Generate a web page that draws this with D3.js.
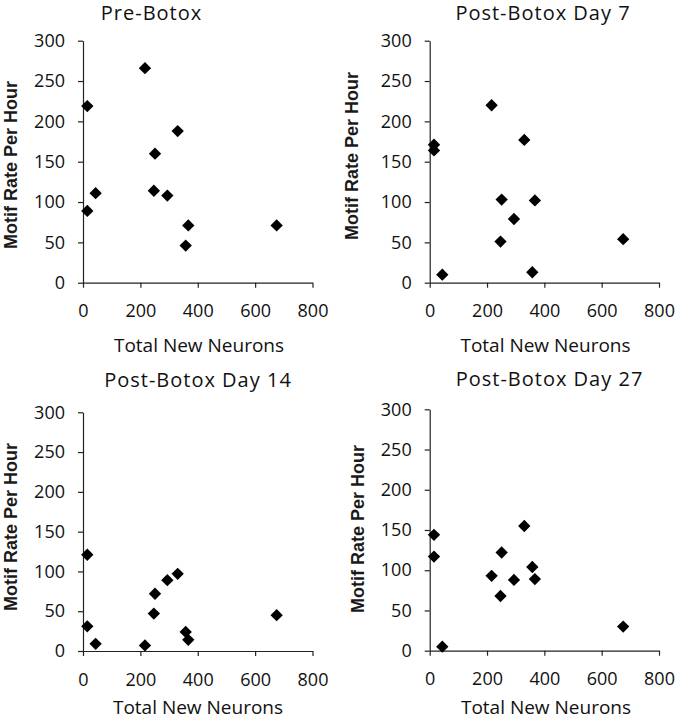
<!DOCTYPE html>
<html>
<head>
<meta charset="utf-8">
<script src="https://cdn.jsdelivr.net/npm/d3@7"></script>
<style>
  html, body { margin: 0; padding: 0; background: #fff; }
  svg { display: block; }
</style>
</head>
<body>
<div id="chart"></div>
<script>
// ---- data ----
const neurons = [15, 15, 44, 216, 247, 251, 294, 330, 358, 367, 675];
const preBotox = [219, 89, 111, 266, 114, 160, 108, 188, 46, 71, 71];
const postDay7 = [171, 164, 10, 220, 51, 103, 79, 177, 13, 102, 54];
const postDay14 = [121, 31, 9, 7, 47, 72, 89, 97, 24, 14, 45];
const postDay27 = [144, 117, 5, 93, 68, 122, 88, 155, 104, 89, 30];

const panelTitles = ["Pre-Botox", "Post-Botox Day 7", "Post-Botox Day 14", "Post-Botox Day 27"];
const panelSeries = [preBotox, postDay7, postDay14, postDay27];
const xTicks = [0, 200, 400, 600, 800];
const yTicks = [0, 50, 100, 150, 200, 250, 300];
const xLabel = "Total New Neurons";
const yLabel = "Motif Rate Per Hour";

// ---- layout (pixels) ----
const W = 677, H = 720;
const layouts = [
  { x0: 83, x1: 312.5, yTop: 40.7, yBot: 282.7, tx: 151.5, ty: 19.5, ylx: 17, yly: 165, xlx: 199, xly: 352 },
  { x0: 429.7, x1: 659, yTop: 40.7, yBot: 282.7, tx: 543, ty: 19.5, ylx: 358, yly: 156, xlx: 545.5, xly: 352 },
  { x0: 83, x1: 312.5, yTop: 412.3, yBot: 651, tx: 198, ty: 387, ylx: 17, yly: 527, xlx: 198, xly: 714 },
  { x0: 429.7, x1: 659, yTop: 409.3, yBot: 650.7, tx: 549.5, ty: 386, ylx: 364, yly: 529, xlx: 546, xly: 714 }
];

const svg = d3.select("#chart").append("svg")
  .attr("width", W).attr("height", H);

const tickFont = "'Open Sans', 'Noto Sans', sans-serif";
const axisColor = "#222";

layouts.forEach((L, i) => {
  const series = panelSeries[i];
  const x = d3.scaleLinear().domain([0, 800]).range([L.x0, L.x1]);
  const y = d3.scaleLinear().domain([0, 300]).range([L.yBot, L.yTop]);

  const g = svg.append("g");

  const ya = g.append("g")
    .attr("transform", `translate(${L.x0},0)`)
    .call(d3.axisLeft(y).tickValues(yTicks).tickSize(5).tickPadding(13).tickSizeOuter(0));
  const xa = g.append("g")
    .attr("transform", `translate(0,${L.yBot})`)
    .call(d3.axisBottom(x).tickValues(xTicks).tickSize(5).tickPadding(17).tickSizeOuter(0));

  [ya, xa].forEach(a => {
    a.select(".domain").attr("stroke", axisColor).attr("stroke-width", 1.2);
    a.selectAll(".tick line").attr("stroke", axisColor).attr("stroke-width", 1.2);
    a.selectAll(".tick text")
      .attr("fill", "#111")
      .style("font-family", tickFont)
      .style("font-size", "18px");
  });

  g.append("text")
    .attr("x", L.tx).attr("y", L.ty)
    .attr("text-anchor", "middle")
    .style("font-family", tickFont)
    .style("font-size", "20px")
    .style("font-weight", "500")
    .style("letter-spacing", "1px")
    .attr("fill", "#111")
    .text(panelTitles[i]);

  g.append("text")
    .attr("x", L.xlx).attr("y", L.xly)
    .attr("text-anchor", "middle")
    .style("font-family", tickFont)
    .style("font-size", "19px")
    .attr("fill", "#111")
    .text(xLabel);

  g.append("text")
    .attr("transform", `translate(${L.ylx},${L.yly}) rotate(-90)`)
    .attr("text-anchor", "middle")
    .style("font-family", "'Liberation Sans', Arial, sans-serif")
    .style("font-size", "18px")
    .style("font-weight", "bold")
    .attr("fill", "#1a1a1a")
    .text(yLabel);

  const sym = d3.symbol(d3.symbolSquare, 76);
  g.append("g").selectAll("path")
    .data(series.map((v, k) => ({ n: neurons[k], v })))
    .join("path")
    .attr("d", sym)
    .attr("transform", d => `translate(${x(d.n)},${y(d.v)}) rotate(45)`)
    .attr("fill", "#000");
});
</script>
</body>
</html>
